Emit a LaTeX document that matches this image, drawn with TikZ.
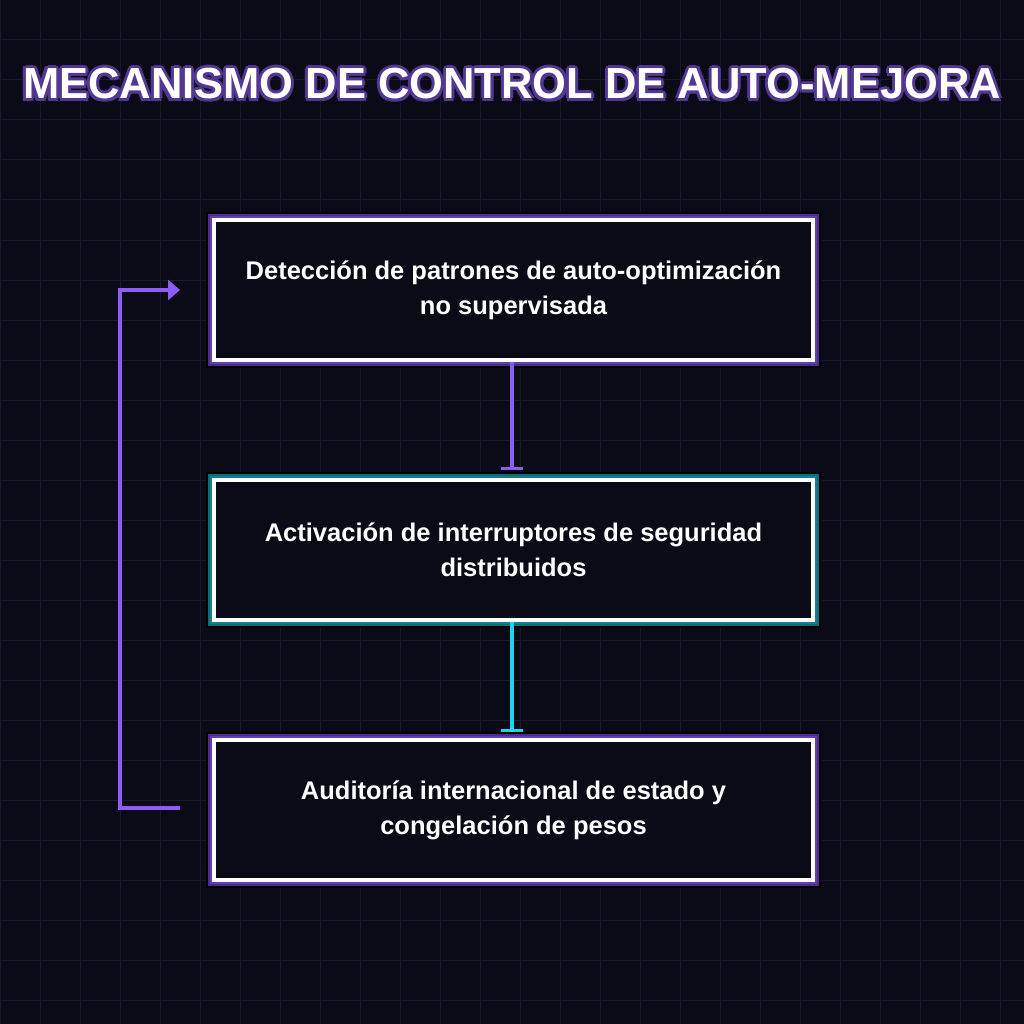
\documentclass[tikz,border=0pt]{standalone}
\usepackage{fontspec}
\setmainfont{Liberation Sans}
\usetikzlibrary{arrows.meta,calc}
\definecolor{bgcol}{HTML}{0B0B18}
\definecolor{gridcol}{HTML}{191929}
\definecolor{violet}{HTML}{8B5CF6}
\definecolor{violetdark}{HTML}{4C2D8F}
\definecolor{tealdark}{HTML}{0E6E78}
\definecolor{cyanline}{HTML}{22D3EE}
\tikzset{
	box/.style={draw=white, line width=4pt, fill=bgcol, minimum width=599pt,
	minimum height=140pt, align=center, text=white,
	font=\fontsize{25.5}{35}\selectfont\bfseries,
	preaction={draw=black, line width=16pt},
	preaction={draw=#1, line width=12pt},
	preaction={draw=violet!70!black, line width=8pt}},
	link/.style={line width=3.5pt, -{Bar[width=22pt,line width=3.5pt]}},
	titlefont/.style={font=\fontsize{43.5}{48}\selectfont\bfseries},
}
\begin{document}
\begin{tikzpicture}[x=1pt, y=-1pt]
	% Hintergrund
	\fill[bgcol] (0,0) rectangle (1024,1024);
	\useasboundingbox (0,0) rectangle (1024,1024);
	\foreach \x in {0,40,...,1000}
		\draw[gridcol, line width=1pt] (\x,0) -- (\x,1024);
	\foreach \y in {0,40,...,1000}
		\draw[gridcol, line width=1pt] (0,\y) -- (1024,\y);
	% Titel
	\foreach \a in {0,45,...,315}
		\node[text=violet!60!black, titlefont]
		at ($(512,84)+(\a:3pt)$) {MECANISMO DE CONTROL DE AUTO-MEJORA};
	\node[text=white, titlefont] (title) at
	(512,84) {MECANISMO DE CONTROL DE AUTO-MEJORA};
	% Kaesten
	\node[box=violetdark] (detect) at (513.5,290) {Detección de patrones de
	auto-optimización\\no supervisada};
	\node[box=tealdark, preaction={draw=cyanline!60!black, line width=8pt}]
	(switch) at (513.5,550) {Activación de interruptores de
	seguridad\\distribuidos};
	\node[box=violetdark] (audit) at (513.5,810) {Auditoría internacional de
	estado y\\congelación de pesos};
	% Verbindungen
	\coordinate (d1) at (512,470);
	\coordinate (d2) at (512,732);
	\coordinate (loopa) at (180,808);
	\coordinate (loopb) at (180,290);
	\draw[link, violet] (detect.south -| d1) -- (d1);
	\draw[link, cyanline] (switch.south -| d2) -- (d2);
	\draw[violet, line width=3.5pt, -{Triangle[length=12pt,width=20pt]}]
	(loopa) -- (120,808) -- (120,290) -- (loopb);
\end{tikzpicture}
\end{document}
